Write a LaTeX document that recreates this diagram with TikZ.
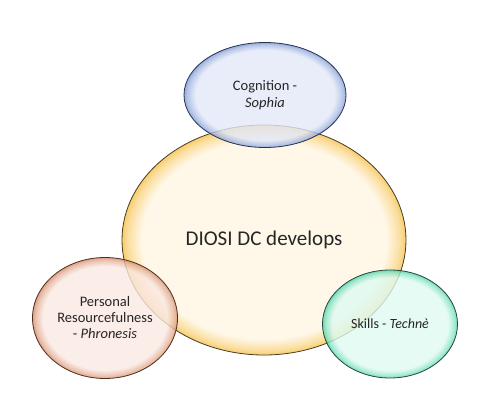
\documentclass[tikz,border=0pt]{standalone}
\usepackage{fontspec}
\setmainfont{Carlito}
\usepackage{xcolor}
\usetikzlibrary{shapes.geometric}

\definecolor{sunin}{RGB}{255,246,228}
\definecolor{sunrim}{RGB}{246,192,70}
\definecolor{sunline}{RGB}{70,60,40}
\definecolor{skyin}{RGB}{226,232,248}
\definecolor{skyrim}{RGB}{125,152,210}
\definecolor{skyline}{RGB}{40,50,85}
\definecolor{clayin}{RGB}{250,232,226}
\definecolor{clayrim}{RGB}{214,140,104}
\definecolor{clayline}{RGB}{80,45,30}
\definecolor{mintin}{RGB}{222,250,241}
\definecolor{mintrim}{RGB}{78,212,170}
\definecolor{mintline}{RGB}{40,70,60}
\definecolor{inktext}{RGB}{38,38,38}

\colorlet{bubin}{white}
\colorlet{bubrim}{black}
\pgfdeclareradialshading[bubin,bubrim]{bubble}{\pgfpoint{0bp}{0bp}}{color(0bp)=(bubin); color(21.5bp)=(bubin); color(24bp)=(bubrim!60!bubin); color(25bp)=(bubrim); color(50bp)=(bubrim)}

\begin{document}
\begin{tikzpicture}[x=1pt, y=-1pt,
	bubble/.style 2 args={ellipse, inner sep=0pt, line width=0.8pt, draw=#2line,
		/utils/exec={\colorlet{bubin}{#2in}\colorlet{bubrim}{#2rim}},
		shading=bubble, fill opacity=0.8, text opacity=1, text=inktext, align=center, font=#1}]
	\useasboundingbox (0,0) rectangle (481,403);

	\node[bubble={\fontsize{21}{25}\selectfont}{sun}, minimum width=284pt, minimum height=230pt] (dc) at (264,240) {DIOSI DC develops};
	\node[bubble={\fontsize{14.5}{16.5}\selectfont}{sky}, minimum width=162pt, minimum height=105pt] (cog) at (265,95) {Cognition -\\\textit{Sophia}};
	\node[bubble={\fontsize{14.5}{16}\selectfont}{clay}, minimum width=145pt, minimum height=121pt] (pers) at (105,318) {Personal\\Resourcefulness\\- \textit{Phronesis}};
	\node[bubble={\fontsize{14}{16}\selectfont}{mint}, minimum width=135pt, minimum height=108pt] (skill) at (390,324) {Skills - \textit{Technè}};

\end{tikzpicture}
\end{document}
